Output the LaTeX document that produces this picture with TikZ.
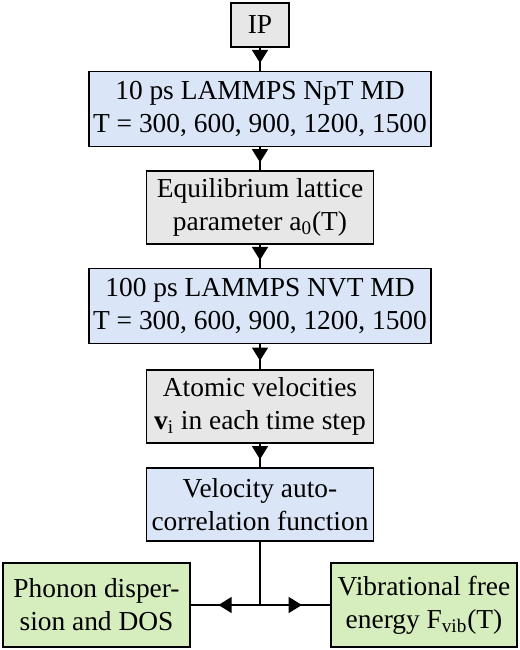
\documentclass[tikz,border=0pt]{standalone}
\usepackage{fontspec}
\setmainfont{Liberation Serif}
\usepackage{tikz}
\usetikzlibrary{arrows.meta, positioning, decorations.markings}
\usepackage{xcolor}
\definecolor{mdblue}{HTML}{DAE5F7}
\definecolor{mdgrey}{HTML}{E7E7E7}
\definecolor{mdgreen}{HTML}{D6EDBE}

\begin{document}
\begin{tikzpicture}[
    box/.style={draw=black, line width=1.1pt, align=center,
                inner xsep=0.08cm, inner ysep=0pt,
                font=\fontsize{15.6}{18.7}\selectfont},
    wide/.style={box, fill=mdblue, minimum height=1.5cm},
    narrow/.style={box, minimum width=4.54cm, minimum height=1.47cm},
    result/.style={box, fill=mdgreen, minimum width=3.73cm,
                   minimum height=1.68cm},
    arr/.style={line width=1.1pt, postaction={decorate},
                decoration={markings, mark=at position #1 with
                  {\arrow{Triangle[length=7.5pt, width=9pt]}}}},
    arr/.default=0.67
  ]
    \useasboundingbox (0,0) rectangle (10.4,-13);
    \node[box, fill=mdgrey, minimum width=1.16cm, minimum height=0.88cm]
      (ip) at (5.2,-0.5) {IP};
    \node[wide] (npt) at (5.2,-2.18)
      {10 ps LAMMPS NpT MD\\T = 300, 600, 900, 1200, 1500};
    \node[narrow, fill=mdgrey] (lat) at (5.2,-4.15)
      {Equilibrium lattice\\parameter a\textsubscript{0}(T)};
    \node[wide] (nvt) at (5.2,-6.12)
      {100 ps LAMMPS NVT MD\\T = 300, 600, 900, 1200, 1500};
    \node[narrow, fill=mdgrey] (vel) at (5.2,-8.13)
      {Atomic velocities\\\textbf{v}\textsubscript{i} in each time step};
    \node[narrow, fill=mdblue] (vacf) at (5.2,-10.09)
      {Velocity auto-\\correlation function};
    \node[result] (pdos) at (1.93,-12.1)
      {Phonon disper-\\sion and DOS};
    \node[result] (fvib) at (8.48,-12.1)
      {Vibrational free\\energy F\textsubscript{vib}(T)};
    \coordinate (split) at (vacf.south |- pdos.east);

    \draw[arr] (ip.south) -- (npt.north);
    \draw[arr] (npt.south) -- (lat.north);
    \draw[arr] (lat.south) -- (nvt.north);
    \draw[arr] (nvt.south) -- (vel.north);
    \draw[arr] (vel.south) -- (vacf.north);
    \draw[line width=1.1pt] (vacf.south) -- (split);
    \draw[arr=0.6] (split) -- (pdos.east);
    \draw[arr=0.6] (split) -- (fvib.west);
  \end{tikzpicture}
\end{document}
